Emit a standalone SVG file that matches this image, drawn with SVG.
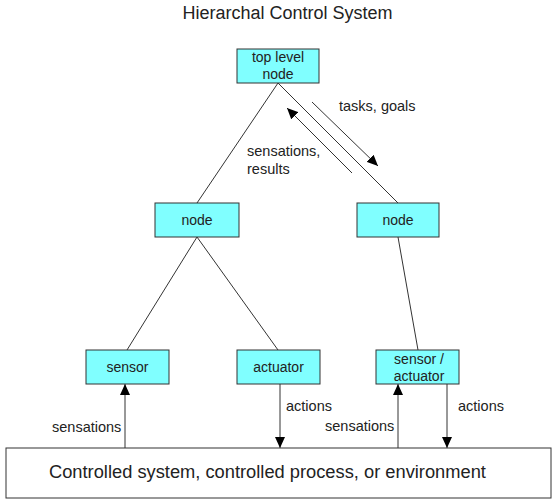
<svg xmlns="http://www.w3.org/2000/svg" width="554" height="501" viewBox="0 0 554 501">
<style>
text{font-family:"Liberation Sans",Arial,sans-serif;fill:#222}
.node rect{fill:#80ffff;stroke:#333;stroke-width:1}
.node text{font-size:14px;text-anchor:middle}
.lbl{font-size:14.5px}
.conn line{stroke:#333;stroke-width:1;fill:none}
.title{font-size:18px;text-anchor:middle}
.env rect{fill:#fff;stroke:#333;stroke-width:1}
.env text{font-size:18.3px}
</style>
<defs>
<marker id="ah" viewBox="0 0 11 10" refX="11" refY="5" markerWidth="11" markerHeight="10" markerUnits="userSpaceOnUse" orient="auto">
<path d="M0,0 L11,5 L0,10 Z" fill="#000"/>
</marker>
</defs>
<rect width="554" height="501" fill="#fff"/>
<text class="title" x="287.5" y="19">Hierarchal Control System</text>

<g id="conn" class="conn">
<line x1="278" y1="83" x2="197" y2="203"/>
<line x1="278" y1="83" x2="398" y2="203"/>
<line x1="197" y1="237" x2="127" y2="350"/>
<line x1="197" y1="237" x2="278" y2="350"/>
<line x1="398" y1="237" x2="418" y2="350"/>
<line x1="312" y1="102" x2="378" y2="166" marker-end="url(#ah)"/>
<line x1="352" y1="173" x2="287" y2="108" marker-end="url(#ah)"/>
<line x1="125" y1="448" x2="125" y2="384" marker-end="url(#ah)"/>
<line x1="280" y1="384" x2="280" y2="448" marker-end="url(#ah)"/>
<line x1="398" y1="448" x2="398" y2="384" marker-end="url(#ah)"/>
<line x1="447" y1="384" x2="447" y2="448" marker-end="url(#ah)"/>
</g>

<g id="labels">
<text class="lbl" x="339" y="111">tasks, goals</text>
<text class="lbl" x="247" y="156">sensations,</text>
<text class="lbl" x="247" y="174">results</text>
<text class="lbl" x="52" y="432">sensations</text>
<text class="lbl" x="286" y="411">actions</text>
<text class="lbl" x="325" y="431">sensations</text>
<text class="lbl" x="458" y="411">actions</text>
</g>

<g id="top" class="node">
<rect x="237" y="49" width="82" height="34"/>
<text x="278" y="62">top level</text>
<text x="278" y="79">node</text>
</g>
<g id="nodeL" class="node">
<rect x="155" y="203" width="84" height="34"/>
<text x="197" y="225">node</text>
</g>
<g id="nodeR" class="node">
<rect x="357" y="203" width="82" height="34"/>
<text x="398" y="225">node</text>
</g>
<g id="sensor" class="node">
<rect x="86" y="350" width="83" height="34"/>
<text x="127.5" y="372">sensor</text>
</g>
<g id="actuator" class="node">
<rect x="237" y="350" width="83" height="34"/>
<text x="278.5" y="372">actuator</text>
</g>
<g id="sensact" class="node">
<rect x="376" y="350" width="83" height="34"/>
<text x="419" y="364">sensor /</text>
<text x="419" y="381">actuator</text>
</g>
<g id="env" class="env">
<rect x="6" y="448" width="545" height="50"/>
<text x="49" y="478">Controlled system, controlled process, or environment</text>
</g>
</svg>
